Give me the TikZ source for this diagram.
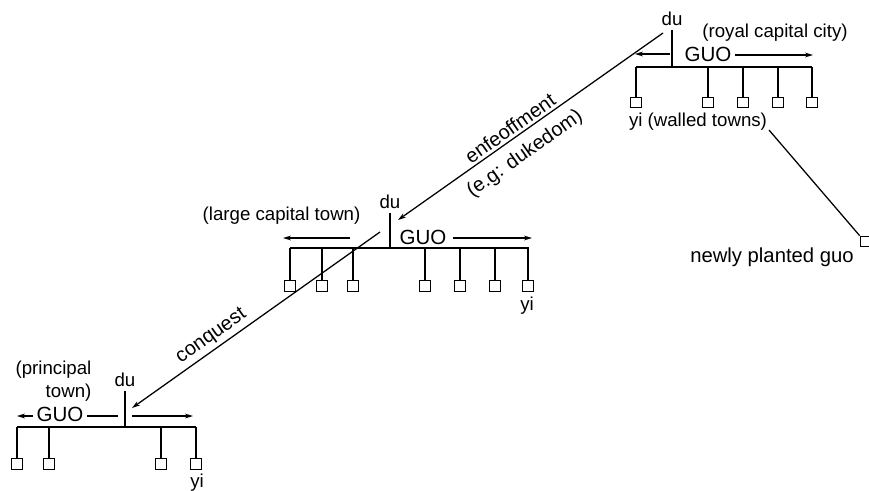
\documentclass[tikz,border=0pt]{standalone}
\usepackage{fontspec}
\setmainfont{Liberation Sans}
\usetikzlibrary{arrows.meta}
\begin{document}
\begin{tikzpicture}[x=0.75pt,y=-0.75pt,
  line width=0.95pt,
  lbl/.style={inner sep=0pt,font=\fontsize{14}{17.25}\selectfont},
  dulbl/.style={inner sep=3pt,font=\fontsize{14}{17}\selectfont},
  guolbl/.style={inner sep=2pt,font=\fontsize{15.4}{18}\selectfont},
  townbox/.style={draw,fill=white,minimum size=8pt,inner sep=0pt,line width=0.8pt},
  arr/.style={-{Stealth[length=6pt,width=3.6pt]}},
]
\useasboundingbox (0,0) rectangle (869,490);

% ---------- top group: royal capital city ----------
\node[dulbl,anchor=base] (duA) at (672,25) {du};
\node[lbl,anchor=base] (capA) at (775,37) {(royal capital city)};
\node[guolbl,anchor=base] (guoA) at (708,61) {GUO};
\coordinate (barAL) at (636,67);
\coordinate (barAR) at (812,67);
\draw (barAL) -- (barAR);
\draw (duA.south) -- (duA.south |- barAL);
\coordinate (aAL1) at (670,54);
\coordinate (aAL2) at (635,54);
\coordinate (aAR1) at (735,55);
\coordinate (aAR2) at (813,55);
\draw[arr] (aAL1) -- (aAL2);
\draw[arr] (aAR1) -- (aAR2);
\foreach \i/\x in {1/636,2/708,3/743,4/778,5/812}{
  \node[townbox] (bA\i) at (\x,102.5) {};
  \draw (bA\i.north) -- (bA\i.north |- barAL);
}
\node[lbl,anchor=base] (yiA) at (698,126) {yi (walled towns)};

% newly planted guo
\coordinate (npS) at (769,130);
\node[townbox] (bNew) at (865.5,241.5) {};
\draw (npS) -- (bNew.north west);
\node[lbl,anchor=base,font=\fontsize{15.2}{18}\selectfont] (npLbl) at (772,262) {newly planted guo};

% enfeoffment arrow
\coordinate (enS) at (663,33);
\coordinate (enE) at (398,220);
\draw[arr] (enS) -- (enE);
\node[lbl,rotate=35.2,font=\fontsize{15}{18}\selectfont] (enLbl) at (510,128) {enfeoffment};
\node[lbl,rotate=35.2,font=\fontsize{15}{18}\selectfont] (egLbl) at (525,154) {(e.g: dukedom)};

% ---------- middle group: large capital town ----------
\node[dulbl,anchor=base] (duB) at (390,208) {du};
\node[lbl,anchor=base east] (capB) at (361,220) {(large capital town)};
\node[guolbl,anchor=base] (guoB) at (423,244) {GUO};
\coordinate (barBL) at (290,248);
\coordinate (barBR) at (529,248);
\draw (barBL) -- (barBR);
\draw (duB.south) -- (duB.south |- barBL);
\coordinate (aBL1) at (350,238);
\coordinate (aBL2) at (283,238);
\coordinate (aBR1) at (453,238);
\coordinate (aBR2) at (532,238);
\draw[arr] (aBL1) -- (aBL2);
\draw[arr] (aBR1) -- (aBR2);
\foreach \i/\x in {1/290,2/322,3/353,4/425,5/460,6/495,7/528}{
  \node[townbox] (bB\i) at (\x,286) {};
  \draw (bB\i.north) -- (bB\i.north |- barBL);
}
\node[lbl,anchor=base] (yiB) at (527,310) {yi};

% conquest arrow
\coordinate (cqS) at (380,232);
\coordinate (cqE) at (132,408);
\draw[arr] (cqS) -- (cqE);
\node[lbl,rotate=35.4,font=\fontsize{15}{18}\selectfont] (cqLbl) at (211.5,336.5) {conquest};

% ---------- bottom group: principal town ----------
\node[dulbl,anchor=base] (duC) at (125,386) {du};
\node[lbl,align=right,anchor=south east] (capC) at (92,402) {(principal\\town)};
\coordinate (barCL) at (17,427);
\coordinate (barCR) at (196,427);
\draw (barCL) -- (barCR);
\draw (duC.south) -- (duC.south |- barCL);
\coordinate (aCL1) at (118,416);
\coordinate (aCL2) at (17,416);
\coordinate (aCR1) at (132,416);
\coordinate (aCR2) at (193,416);
\draw[arr] (aCL1) -- (aCL2);
\draw[arr] (aCR1) -- (aCR2);
\node[guolbl,anchor=base,fill=white,inner xsep=2.5pt] (guoC) at (60,421) {GUO};
\foreach \i/\x in {1/17,2/49,3/161,4/196}{
  \node[townbox] (bC\i) at (\x,464) {};
  \draw (bC\i.north) -- (bC\i.north |- barCL);
}
\node[lbl,anchor=base] (yiC) at (197,487) {yi};
\end{tikzpicture}
\end{document}
